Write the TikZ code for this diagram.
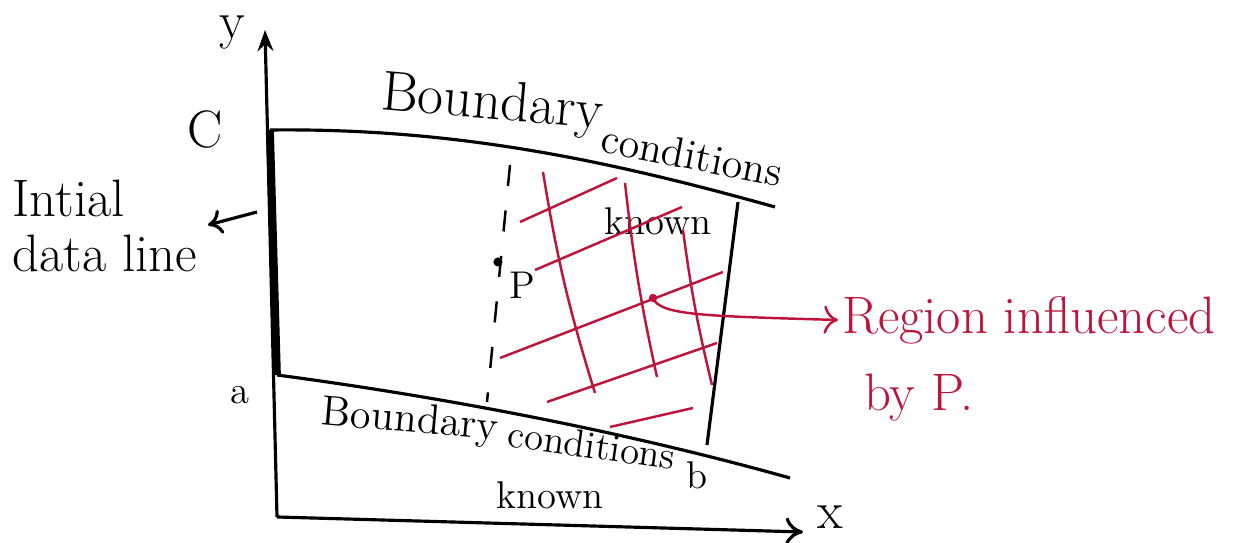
\documentclass[tikz,border=0pt]{standalone}
\usetikzlibrary{arrows.meta}
\definecolor{penred}{RGB}{190,20,60}
\tikzset{
  pen/.style={line width=0.9pt},
  redpen/.style={penred, line width=0.7pt},
  hand/.style={inner sep=0pt, font=\fontsize{15}{18}\selectfont},
  small hand/.style={inner sep=0pt, font=\fontsize{11}{13}\selectfont},
  red hand/.style={inner sep=1pt, text=penred, font=\fontsize{15}{18}\selectfont}
}
\begin{document}
\begin{tikzpicture}
\useasboundingbox (0,0) rectangle (12.4,5.43);
% axes
\coordinate (O) at (2.77,0.26);
\coordinate (ytop) at (2.65,5.13);
\coordinate (xend) at (8.03,0.11);
\coordinate (C) at (2.70,4.13);
\coordinate (A) at (2.77,1.68);
\draw[pen,-{Stealth[length=6pt]}] (O) -- (ytop);
\draw[pen,-{To[length=5pt,width=8pt]}] (O) -- (xend);
\node[hand] (ylab) at (2.32,5.10) {y};
\node[hand] (xlab) at (8.30,0.26) {x};
\node[hand] (clab) at (2.05,4.13) {C};
\node[small hand] (alab) at (2.40,1.48) {a};
% initial data line
\draw[line width=2.2pt] (C) -- (A);
\node[hand, anchor=west] (intial) at (0.12,3.45) {Intial};
\node[hand, anchor=west] (dataline) at (0.12,2.90) {data line};
\coordinate (arrS) at (2.57,3.31);
\coordinate (arrE) at (2.08,3.18);
\draw[pen,-{To[length=4pt,width=7pt]}] (arrS) -- (arrE);
% boundaries
\coordinate (topR) at (7.75,3.36);
\coordinate (botR) at (7.90,0.65);
\draw[pen] (C) .. controls (4.5,4.15) and (6.0,3.85) .. (topR);
\draw[pen] (A) .. controls (4.5,1.45) and (6.3,1.10) .. (botR);
\coordinate (wallT) at (7.38,3.41);
\coordinate (wallB) at (7.07,0.98);
\draw[pen] (wallT) -- (wallB);
% top labels
\node[hand, font=\fontsize{16}{19}\selectfont, rotate=-5] (topb) at (4.92,4.38) {Boundary};
\node[small hand, font=\fontsize{12}{14}\selectfont, rotate=-11] (topc) at (6.92,3.88) {conditions};
\node[small hand] (topk) at (6.58,3.22) {known};
% bottom labels
\node[small hand, font=\fontsize{12}{14}\selectfont, rotate=-5] (botb) at (4.10,1.21) {Boundary};
\node[small hand, rotate=-8] (botc) at (5.92,0.98) {conditions};
\node[small hand] (blab) at (6.97,0.68) {b};
\node[small hand] (botk) at (5.50,0.48) {known};
% point P
\coordinate (dashT) at (5.10,3.78);
\coordinate (dashB) at (4.87,1.41);
\draw[pen, line width=0.7pt, dash pattern=on 6pt off 7pt] (dashT) -- (dashB);
\fill (4.98,2.81) coordinate (P) circle (1.3pt);
\node[small hand] (plab) at (5.22,2.58) {P};
% region influenced by P
\draw[redpen] (5.43,3.71) to[bend right=4] (5.95,1.50);
\draw[redpen] (6.25,3.60) to[bend right=3] (6.57,1.66);
\draw[redpen] (6.83,3.13) to[bend right=3] (7.12,1.58);
\draw[redpen] (5.20,3.21) -- (6.17,3.65);
\draw[redpen] (5.35,2.73) -- (6.82,3.36);
\draw[redpen] (5.00,1.85) -- (7.23,2.71);
\draw[redpen] (5.47,1.41) -- (7.17,2.00);
\draw[redpen] (6.10,1.16) -- (6.93,1.35);
\coordinate (rS) at (6.53,2.45);
\fill[penred] (rS) circle (1.2pt);
\node[red hand, anchor=west] (region) at (8.38,2.23) {Region influenced};
\node[red hand, anchor=west] (byp) at (8.60,1.45) {by P.};
\draw[redpen, -{To[length=4pt,width=8pt]}] (rS) .. controls (6.6,2.28) and (7.0,2.27) .. (region.west);
\end{tikzpicture}
\end{document}
